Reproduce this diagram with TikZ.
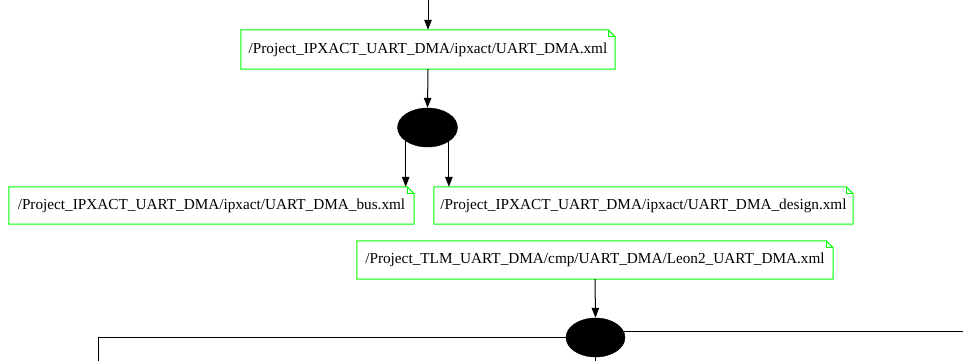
\documentclass[tikz,border=0pt]{standalone}
\usepackage{fontspec}
\setmainfont{Liberation Serif}
\usetikzlibrary{arrows.meta,shapes.geometric}
\definecolor{notegreen}{RGB}{0,255,0}
\begin{document}
\begin{tikzpicture}[x=1pt,y=-1pt,
  notebox/.style={draw=none, rectangle, inner xsep=0pt, inner ysep=0pt,
    font=\fontsize{15.25}{18}\selectfont, text=black},
  blob/.style={ellipse, draw=black, fill=black, inner sep=0pt, minimum width=60pt, minimum height=39pt},
  conn/.style={draw=black, line width=1pt},
  arr/.style={conn, -{Triangle[length=10pt,width=7.5pt]}},
  outline/.style={draw=notegreen, line width=1pt, line join=miter}
]
\useasboundingbox (0,0) rectangle (963,361);
\node[notebox, minimum width=374pt, minimum height=39pt] (n1) at (428,49.5) {/Project\_IPXACT\_UART\_DMA/ipxact/UART\_DMA.xml};
\node[blob] (e1) at (427.5,127.5) {};
\node[notebox, minimum width=405pt, minimum height=37pt] (bus) at (211.5,205.5) {/Project\_IPXACT\_UART\_DMA/ipxact/UART\_DMA\_bus.xml};
\node[notebox, minimum width=419pt, minimum height=37pt] (design) at (643.5,205.5) {/Project\_IPXACT\_UART\_DMA/ipxact/UART\_DMA\_design.xml};
\node[notebox, minimum width=476pt, minimum height=38pt] (leon) at (595,260) {/Project\_TLM\_UART\_DMA/cmp/UART\_DMA/Leon2\_UART\_DMA.xml};
\node[blob, minimum width=59pt] (e2) at (595.5,337.5) {};
\foreach \n in {n1,bus,design,leon}{
  \draw[outline] (\n.north west) -- ([xshift=-7pt]\n.north east) -- ([yshift=-7pt]\n.north east) -- (\n.south east) -- (\n.south west) -- cycle;
  \draw[outline] ([xshift=-7pt]\n.north east) |- ([yshift=-7pt]\n.north east);
}
\coordinate (top) at (428,0);
\coordinate (R) at (963,331);
\coordinate (L) at (98,361);
\coordinate (B) at (595.5,361);
\draw[arr] (top) -- (n1.north);
\draw[arr] (n1.south) -- (e1.north);
\draw[arr] (e1.212.7) -- (e1.212.7 |- bus.north);
\draw[arr] (e1.327.3) -- (e1.327.3 |- design.north);
\draw[arr] (leon.south) -- (e2.north);
\draw[conn] (e2.12.9) -- (e2.12.9 -| R);
\draw[conn] (e2.west) -| (L);
\draw[conn] (e2.south) -- (e2.south |- B);
\end{tikzpicture}
\end{document}
